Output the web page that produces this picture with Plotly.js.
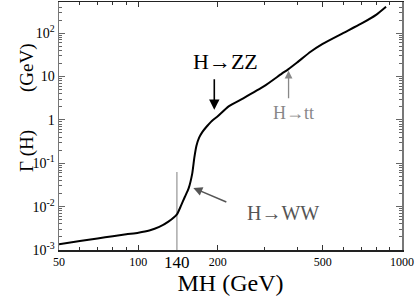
<!DOCTYPE html>
<html>
<head>
<meta charset="utf-8">
<script src="https://cdn.plot.ly/plotly-3.0.1.min.js"></script>
<style>html,body{margin:0;padding:0;background:#fff;}#chart{width:419px;height:304px;}</style>
</head>
<body>
<div id="chart"></div>
<script>
// Higgs mass (GeV) and total width Γ(H) (GeV)
const massGeV = [50, 60, 70, 80, 90, 100, 110, 120, 130, 140, 145, 150, 155, 160, 163, 166, 170, 175, 180, 190, 200, 220, 250, 300, 350, 370, 400, 450, 500, 600, 700, 800, 870];
const widthGeV = [1.36e-3, 1.61e-3, 1.85e-3, 2.08e-3, 2.31e-3, 2.51e-3, 2.82e-3, 3.4e-3, 4.5e-3, 6.6e-3, 0.0104, 0.0167, 0.026, 0.057, 0.133, 0.25, 0.39, 0.53, 0.66, 0.95, 1.21, 2.06, 3.16, 6.0, 11.7, 14.7, 21.1, 37.4, 57, 102, 166, 269, 408];
const markerMass = [140, 140];
const markerWidth = [1e-3, 0.063];
const xTickVals = [50, 100, 200, 500, 1000];
const xTickText = ['50', '100', '200', '500', '1000'];
const xMinor = [60, 70, 80, 90, 300, 400, 600, 700, 800, 900];
const yTickVals = [1e-3, 1e-2, 1e-1, 1, 10, 100];
const yTickText = ['10<sup>-3</sup>', '10<sup>-2</sup>', '10<sup>-1</sup>', '1', '10', '10<sup>2</sup>'];
const yMinor = [];
for (let e = -3; e <= 2; e++) for (let d = 2; d <= 9; d++) yMinor.push(d * Math.pow(10, e));

const L = Math.log10;
const serif = "'Liberation Serif', 'DejaVu Serif', serif";

const traces = [
  {x: markerMass, y: markerWidth, mode: 'lines', line: {color: '#aaaaaa', width: 1.5}, hoverinfo: 'skip'},
  {x: massGeV, y: widthGeV, mode: 'lines', line: {color: '#000', width: 2, shape: 'spline', smoothing: 0.5}}
];

const layout = {
  width: 419, height: 304,
  margin: {l: 59, r: 17, t: 2, b: 54},
  paper_bgcolor: '#fff', plot_bgcolor: '#fff',
  showlegend: false,
  font: {family: serif, color: '#000'},
  xaxis: {
    type: 'log', range: [L(50), L(1000)],
    tickvals: xTickVals, ticktext: xTickText,
    ticks: 'inside', ticklen: 5, tickcolor: '#333', tickwidth: 1,
    minor: {tickvals: xMinor, ticks: 'inside', ticklen: 3, tickcolor: '#333'},
    showline: true, linecolor: '#222', linewidth: 1.5, mirror: 'ticks',
    showgrid: false, zeroline: false,
    tickfont: {family: serif, size: 12, color: '#000'},
    title: {text: 'MH (GeV)', font: {family: serif, size: 24, color: '#000'}, standoff: 6}
  },
  yaxis: {
    type: 'log', range: [-3, 2.72],
    tickvals: yTickVals, ticktext: yTickText,
    ticks: 'inside', ticklen: 6, tickcolor: '#666', tickwidth: 1,
    minor: {tickvals: yMinor, ticks: 'inside', ticklen: 3, tickcolor: '#666'},
    showline: true, linecolor: '#777', linewidth: 1.5, mirror: 'ticks',
    showgrid: false, zeroline: false,
    tickfont: {family: serif, size: 14, color: '#000'}
  },
  annotations: [
    {x: -0.131, y: 0.5726, xref: 'paper', yref: 'paper', showarrow: false, textangle: -90,
     text: 'Γ (H)\u00a0\u00a0\u00a0\u00a0\u00a0\u00a0\u00a0\u00a0(GeV)', font: {family: serif, size: 19, color: '#000'}},
    {x: L(140), y: 0, xref: 'x', yref: 'paper', yanchor: 'top', yshift: -1, showarrow: false,
     text: '140', font: {family: serif, size: 17, color: '#000'}},
    {x: 2.330, y: 1.342, xref: 'x', yref: 'y', showarrow: false, text: 'H→ZZ',
     font: {family: serif, size: 22, color: '#000'}},
    {x: 2.288, y: 0.233, xref: 'x', yref: 'y', showarrow: true, text: '\u00a0', ax: 0, ay: -33,
     arrowhead: 2, arrowsize: 1.3, arrowwidth: 1.6, arrowcolor: '#000', standoff: 0, font: {size: 2}},
    {x: 2.547, y: -2.145, xref: 'x', yref: 'y', showarrow: false, text: 'H→WW',
     font: {family: serif, size: 20, color: '#555'}},
    {x: 2.2085, y: -1.568, xref: 'x', yref: 'y', showarrow: true, text: '\u00a0', ax: 35, ay: 15,
     arrowhead: 2, arrowsize: 1.2, arrowwidth: 1.5, arrowcolor: '#555', standoff: 0, font: {size: 2}},
    {x: 2.589, y: 0.164, xref: 'x', yref: 'y', showarrow: false, text: 'H→tt',
     font: {family: serif, size: 18, color: '#888'}},
    {x: 2.5697, y: 1.134, xref: 'x', yref: 'y', showarrow: true, text: '\u00a0', ax: 0, ay: 30,
     arrowhead: 2, arrowsize: 1.2, arrowwidth: 1.3, arrowcolor: '#888', standoff: 0, font: {size: 2}}
  ]
};

Plotly.newPlot('chart', traces, layout, {displayModeBar: false, staticPlot: true});
</script>
</body>
</html>
